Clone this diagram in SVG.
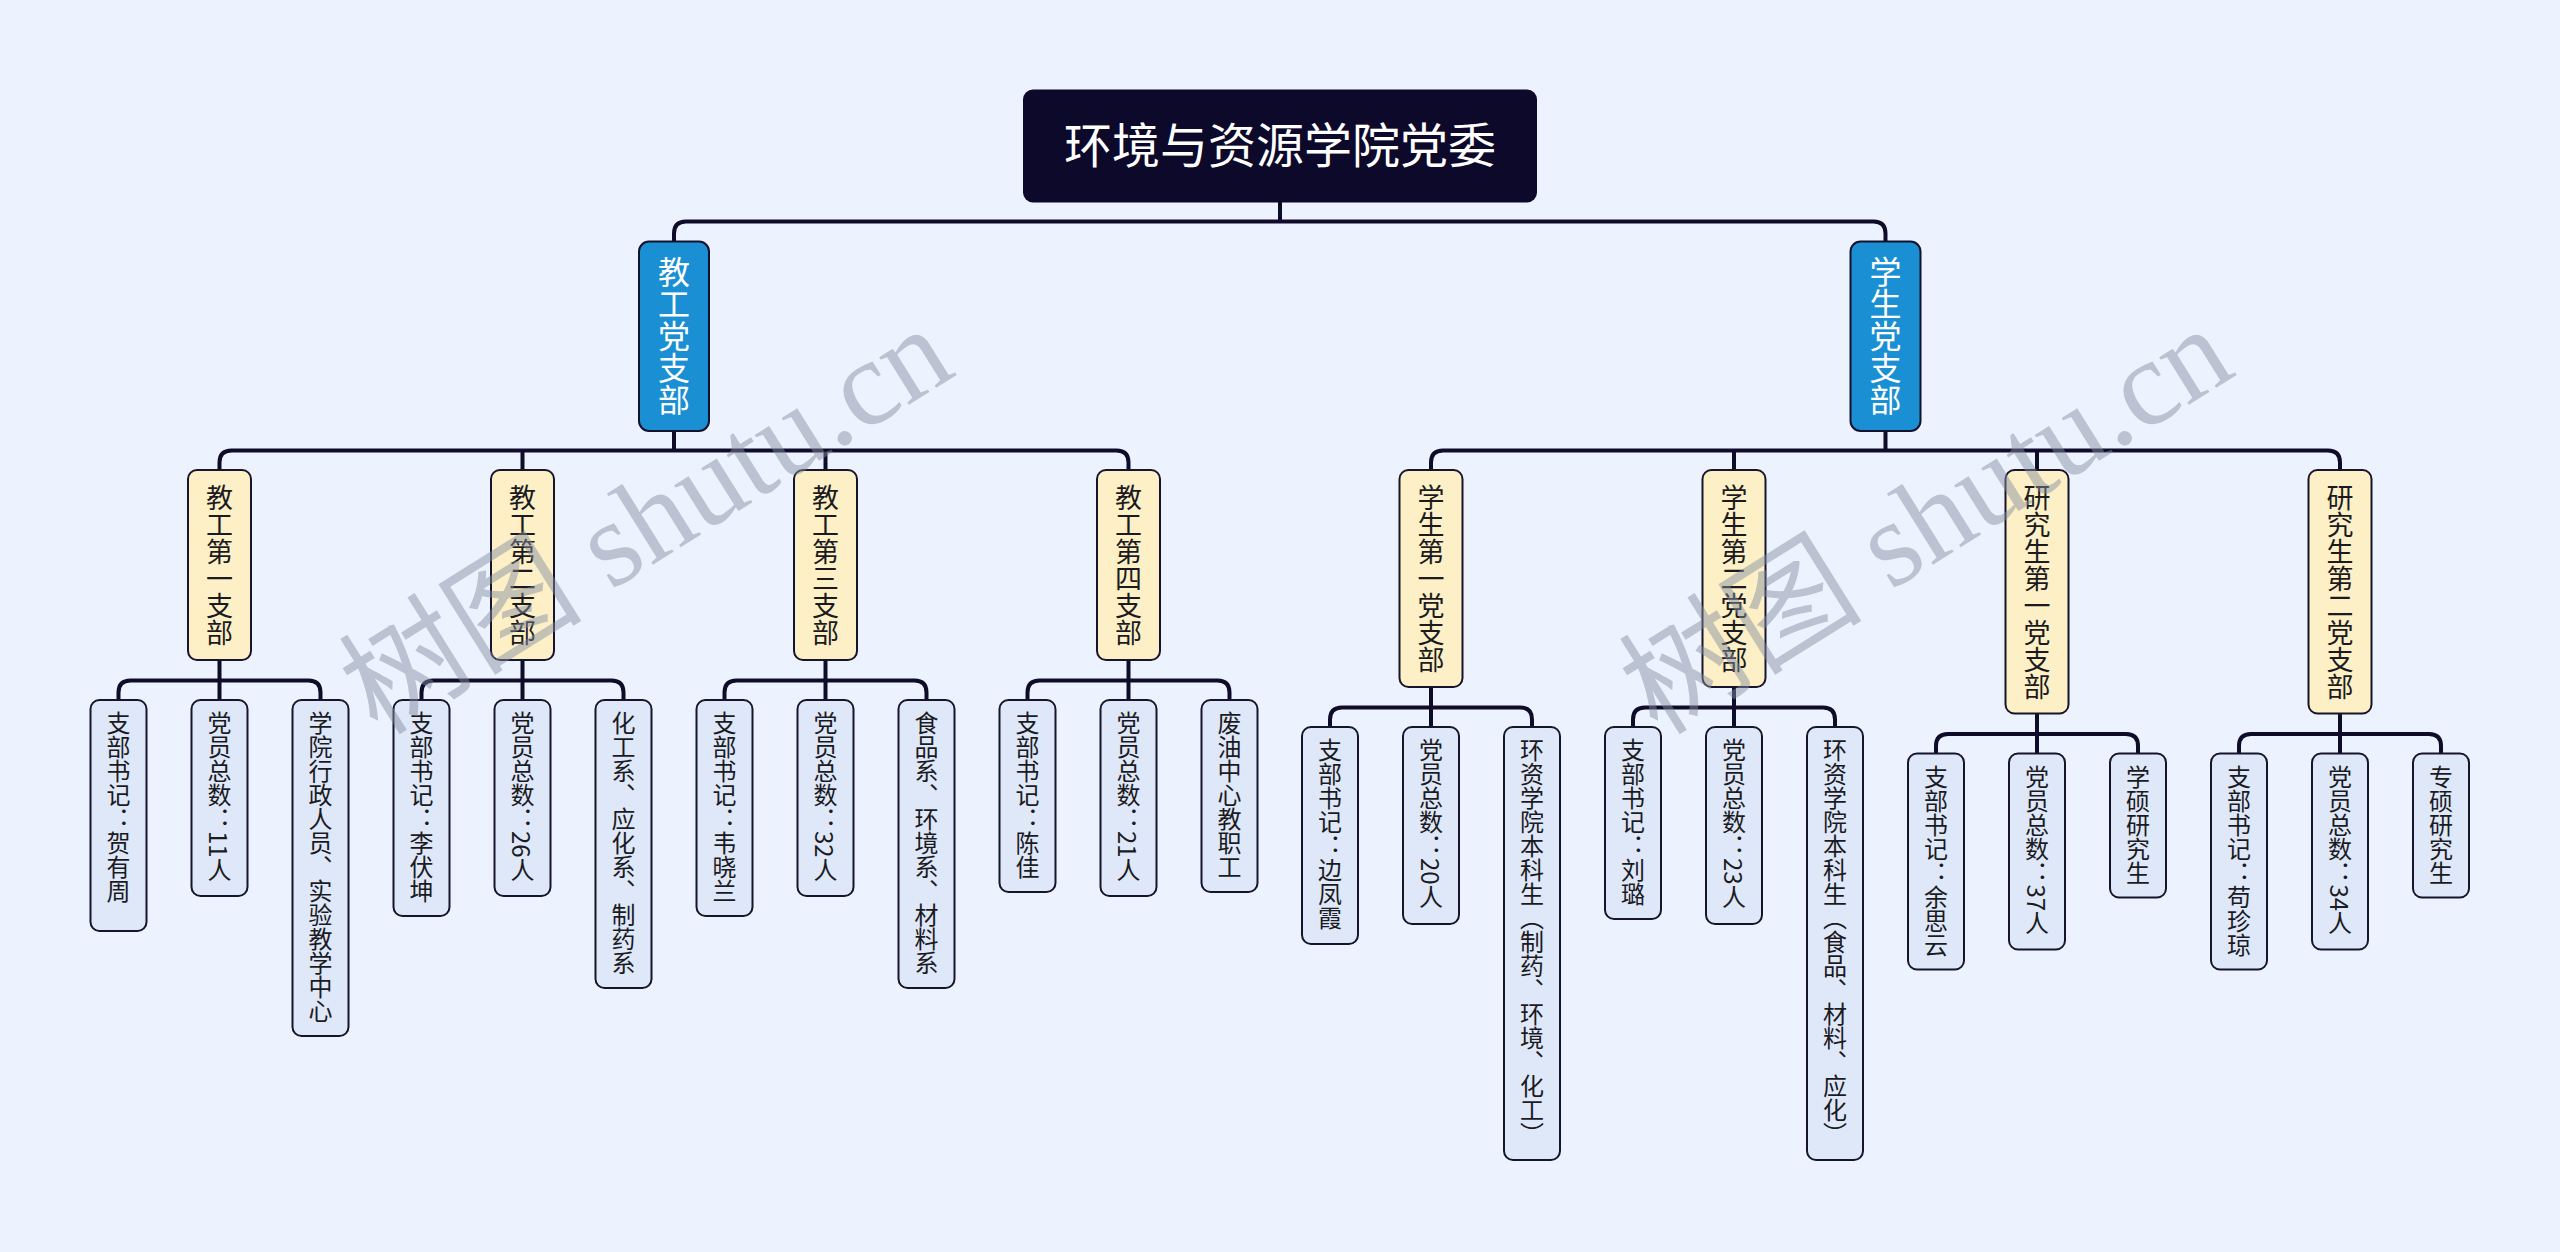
<svg xmlns="http://www.w3.org/2000/svg" width="2560" height="1252" viewBox="0 0 2560 1252">
<style>
.bg{fill:#edf3fe}
text{font-family:"Noto Sans CJK SC","Noto Sans",sans-serif}
.root rect{fill:#0c092b}
.root text{fill:#ffffff;font-size:48px}
.l1 rect{fill:#1a8fd3;stroke:#14122e;stroke-width:2}
.l1 text{fill:#ffffff;font-size:32px;writing-mode:vertical-rl}
.l2 rect{fill:#fdf0c6;stroke:#17152c;stroke-width:2}
.l2 text{fill:#1b1b1f;font-size:27px;writing-mode:vertical-rl}
.l3 rect{fill:#dfe8f9;stroke:#17152c;stroke-width:2}
.l3 text{fill:#1b1b1f;font-size:24px;writing-mode:vertical-rl}
.conn path{fill:none;stroke:#0f0c2a;stroke-width:4}
.wm{font-family:"Liberation Serif","Noto Sans CJK SC",serif;font-size:122px;fill:#848ca0;fill-opacity:0.48}
</style>
<rect class="bg" x="0" y="0" width="2560" height="1252"/>

<g id="connectors" class="conn">
  <path d="M1280,202 V221.5 M674,241.5 V233.5 Q674,221.5 686,221.5 H1873.5 Q1885.5,221.5 1885.5,233.5 V241.5"/>
  <path d="M674,431 V450.5 M219.5,470 V462.5 Q219.5,450.5 231.5,450.5 H1116.5 Q1128.5,450.5 1128.5,462.5 V470 M522.5,450.5 V470 M825.5,450.5 V470"/>
  <path d="M1885.5,431 V450.5 M1431,470 V462.5 Q1431,450.5 1443,450.5 H2328 Q2340,450.5 2340,462.5 V470 M1734,450.5 V470 M2037,450.5 V470"/>
  <path d="M219.5,660 V700 M118.5,700 V692.5 Q118.5,680.5 130.5,680.5 H308.5 Q320.5,680.5 320.5,692.5 V700"/>
  <path d="M522.5,660 V700 M421.5,700 V692.5 Q421.5,680.5 433.5,680.5 H611.5 Q623.5,680.5 623.5,692.5 V700"/>
  <path d="M825.5,660 V700 M724.5,700 V692.5 Q724.5,680.5 736.5,680.5 H914.5 Q926.5,680.5 926.5,692.5 V700"/>
  <path d="M1128.5,660 V700 M1027.5,700 V692.5 Q1027.5,680.5 1039.5,680.5 H1217.5 Q1229.5,680.5 1229.5,692.5 V700"/>
  <path d="M1431,687 V727 M1330,727 V719.5 Q1330,707.5 1342,707.5 H1520 Q1532,707.5 1532,719.5 V727"/>
  <path d="M1734,687 V727 M1633,727 V719.5 Q1633,707.5 1645,707.5 H1823 Q1835,707.5 1835,719.5 V727"/>
  <path d="M2037,713.5 V753.5 M1936,753.5 V746 Q1936,734 1948,734 H2126 Q2138,734 2138,746 V753.5"/>
  <path d="M2340,713.5 V753.5 M2239,753.5 V746 Q2239,734 2251,734 H2429 Q2441,734 2441,746 V753.5"/>
</g>

<g id="root" class="root"><rect x="1023" y="89.5" width="514" height="113" rx="10"/><text x="1280" y="163" text-anchor="middle">环境与资源学院党委</text></g>

<g id="n-jiaogong" class="l1"><rect x="639" y="241.5" width="70" height="189.5" rx="10"/><text x="674" y="256">教工党支部</text></g>
<g id="n-xuesheng" class="l1"><rect x="1850.5" y="241.5" width="70" height="189.5" rx="10"/><text x="1885.5" y="256">学生党支部</text></g>

<g id="n-jg1" class="l2"><rect x="188" y="470" width="63" height="190" rx="9"/><text x="219.5" y="484">教工第一支部</text></g>
<g id="n-jg2" class="l2"><rect x="491" y="470" width="63" height="190" rx="9"/><text x="522.5" y="484">教工第二支部</text></g>
<g id="n-jg3" class="l2"><rect x="794" y="470" width="63" height="190" rx="9"/><text x="825.5" y="484">教工第三支部</text></g>
<g id="n-jg4" class="l2"><rect x="1097" y="470" width="63" height="190" rx="9"/><text x="1128.5" y="484">教工第四支部</text></g>
<g id="n-xs1" class="l2"><rect x="1399.5" y="470" width="63" height="217" rx="9"/><text x="1431" y="484">学生第一党支部</text></g>
<g id="n-xs2" class="l2"><rect x="1702.5" y="470" width="63" height="217" rx="9"/><text x="1734" y="484">学生第二党支部</text></g>
<g id="n-yjs1" class="l2"><rect x="2005.5" y="470" width="63" height="243.5" rx="9"/><text x="2037" y="484">研究生第一党支部</text></g>
<g id="n-yjs2" class="l2"><rect x="2308.5" y="470" width="63" height="243.5" rx="9"/><text x="2340" y="484">研究生第二党支部</text></g>

<g id="n-jg1-a" class="l3"><rect x="90.5" y="700" width="56" height="231" rx="9"/><text x="118.5" y="711">支部书记：贺有周</text></g>
<g id="n-jg1-b" class="l3"><rect x="191.5" y="700" width="56" height="196" rx="9"/><text x="219.5" y="711">党员总数：11人</text></g>
<g id="n-jg1-c" class="l3"><rect x="292.5" y="700" width="56" height="336" rx="9"/><text x="320.5" y="711">学院行政人员、实验教学中心</text></g>

<g id="n-jg2-a" class="l3"><rect x="393.5" y="700" width="56" height="216" rx="9"/><text x="421.5" y="711">支部书记：李伏坤</text></g>
<g id="n-jg2-b" class="l3"><rect x="494.5" y="700" width="56" height="196" rx="9"/><text x="522.5" y="711">党员总数：26人</text></g>
<g id="n-jg2-c" class="l3"><rect x="595.5" y="700" width="56" height="288" rx="9"/><text x="623.5" y="711">化工系、应化系、制药系</text></g>

<g id="n-jg3-a" class="l3"><rect x="696.5" y="700" width="56" height="216" rx="9"/><text x="724.5" y="711">支部书记：韦晓兰</text></g>
<g id="n-jg3-b" class="l3"><rect x="797.5" y="700" width="56" height="196" rx="9"/><text x="825.5" y="711">党员总数：32人</text></g>
<g id="n-jg3-c" class="l3"><rect x="898.5" y="700" width="56" height="288" rx="9"/><text x="926.5" y="711">食品系、环境系、材料系</text></g>

<g id="n-jg4-a" class="l3"><rect x="999.5" y="700" width="56" height="192" rx="9"/><text x="1027.5" y="711">支部书记：陈佳</text></g>
<g id="n-jg4-b" class="l3"><rect x="1100.5" y="700" width="56" height="196" rx="9"/><text x="1128.5" y="711">党员总数：21人</text></g>
<g id="n-jg4-c" class="l3"><rect x="1201.5" y="700" width="56" height="192" rx="9"/><text x="1229.5" y="711">废油中心教职工</text></g>

<g id="n-xs1-a" class="l3"><rect x="1302" y="727" width="56" height="217" rx="9"/><text x="1330" y="738">支部书记：边凤霞</text></g>
<g id="n-xs1-b" class="l3"><rect x="1403" y="727" width="56" height="197" rx="9"/><text x="1431" y="738">党员总数：20人</text></g>
<g id="n-xs1-c" class="l3"><rect x="1504" y="727" width="56" height="433" rx="9"/><text x="1532" y="738">环资学院本科生（制药、环境、化工）</text></g>

<g id="n-xs2-a" class="l3"><rect x="1605" y="727" width="56" height="192" rx="9"/><text x="1633" y="738">支部书记：刘璐</text></g>
<g id="n-xs2-b" class="l3"><rect x="1706" y="727" width="56" height="197" rx="9"/><text x="1734" y="738">党员总数：23人</text></g>
<g id="n-xs2-c" class="l3"><rect x="1807" y="727" width="56" height="433" rx="9"/><text x="1835" y="738">环资学院本科生（食品、材料、应化）</text></g>

<g id="n-yjs1-a" class="l3"><rect x="1908" y="753.5" width="56" height="216" rx="9"/><text x="1936" y="764.5">支部书记：余思云</text></g>
<g id="n-yjs1-b" class="l3"><rect x="2009" y="753.5" width="56" height="196" rx="9"/><text x="2037" y="764.5">党员总数：37人</text></g>
<g id="n-yjs1-c" class="l3"><rect x="2110" y="753.5" width="56" height="144" rx="9"/><text x="2138" y="764.5">学硕研究生</text></g>

<g id="n-yjs2-a" class="l3"><rect x="2211" y="753.5" width="56" height="216" rx="9"/><text x="2239" y="764.5">支部书记：苟珍琼</text></g>
<g id="n-yjs2-b" class="l3"><rect x="2312" y="753.5" width="56" height="196" rx="9"/><text x="2340" y="764.5">党员总数：34人</text></g>
<g id="n-yjs2-c" class="l3"><rect x="2413" y="753.5" width="56" height="144" rx="9"/><text x="2441" y="764.5">专硕研究生</text></g>

<g id="watermark">
  <text class="wm" x="646" y="520" text-anchor="middle" dominant-baseline="central" transform="rotate(-32 646 520)">树图 shutu.cn</text>
  <text class="wm" x="1926" y="520" text-anchor="middle" dominant-baseline="central" transform="rotate(-32 1926 520)">树图 shutu.cn</text>
</g>
</svg>
